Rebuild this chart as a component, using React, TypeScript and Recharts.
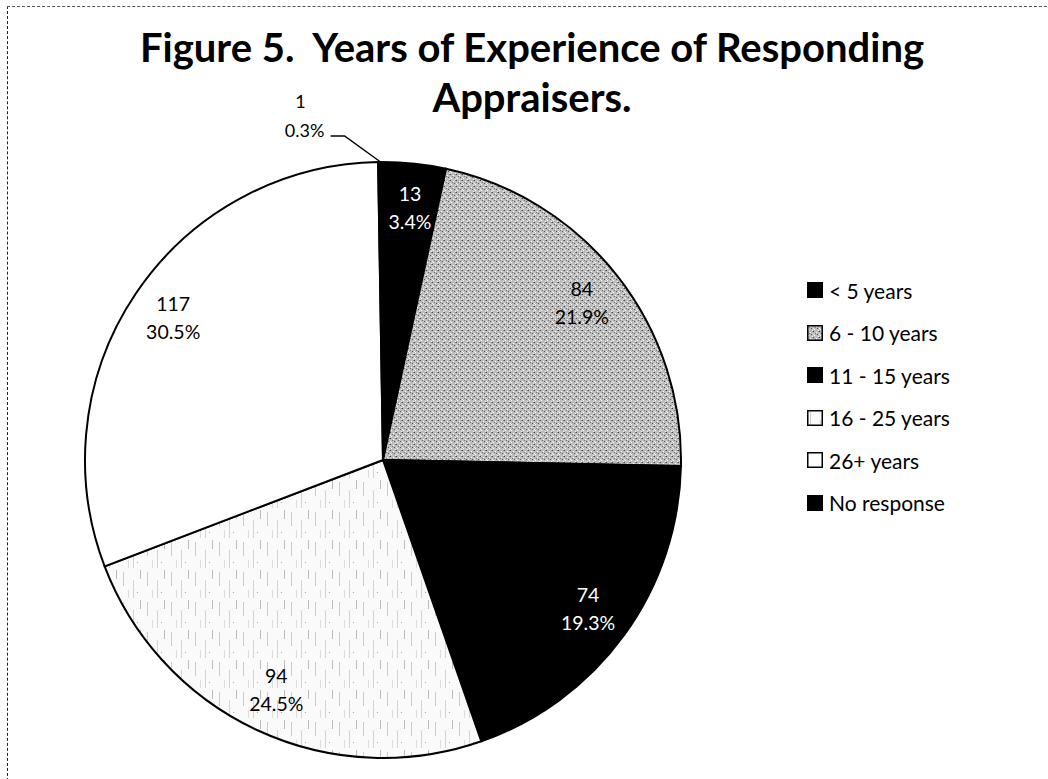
import React from "react"
import { PieChart, Pie, Cell, Legend } from "recharts"

const categories = ["< 5 years", "6 - 10 years", "11 - 15 years", "16 - 25 years", "26+ years", "No response"]
const counts = [13, 84, 74, 94, 117, 1]
const percents = ["3.4%", "21.9%", "19.3%", "24.5%", "30.5%", "0.3%"]

const fills = ["#000", "url(#speckle)", "#000", "url(#faint)", "#fff", "#000"]
const labelInk = ["#fff", "#000", "#fff", "#000", "#000", "#000"]

const FONT = "Lato, 'Open Sans', sans-serif"
const RAD = Math.PI / 180

const data = categories.map((name, i) => ({ name, value: counts[i], pct: percents[i] }))

function SliceLabel(props: any) {
  const { cx, cy, midAngle, outerRadius, index } = props
  const d = data[index]
  if (d.name === "No response") {
    // tiny slice: label sits outside with a leader line
    const x0 = cx + outerRadius * Math.cos(-midAngle * RAD)
    const y0 = cy + outerRadius * Math.sin(-midAngle * RAD)
    return (
      <g>
        <polyline
          points={`${x0},${y0} ${x0 - 36},${y0 - 26} ${x0 - 50},${y0 - 26}`}
          fill="none"
          stroke="#000"
          strokeWidth={1.5}
        />
        <text x={x0 - 80} y={y0 - 54} textAnchor="middle" fontFamily={FONT} fontSize={18} fill="#000">
          {d.value}
        </text>
        <text x={x0 - 76} y={y0 - 25} textAnchor="middle" fontFamily={FONT} fontSize={18} fill="#000">
          {d.pct}
        </text>
      </g>
    )
  }
  const x = cx + outerRadius * 0.85 * Math.cos(-midAngle * RAD)
  const y = cy + outerRadius * 0.85 * Math.sin(-midAngle * RAD)
  return (
    <g>
      <text x={x} y={y - 7} textAnchor="middle" fontFamily={FONT} fontSize={19.5} fill={labelInk[index]}>
        {d.value}
      </text>
      <text x={x} y={y + 21} textAnchor="middle" fontFamily={FONT} fontSize={19.5} fill={labelInk[index]}>
        {d.pct}
      </text>
    </g>
  )
}

function LegendBox({ i }: { i: number }) {
  return (
    <svg width={16} height={16} style={{ marginRight: 6, flex: "none" }}>
      <rect x={0.75} y={0.75} width={14.5} height={14.5} fill={fills[i]} stroke="#000" strokeWidth={1.5} />
    </svg>
  )
}

function LegendList() {
  return (
    <div style={{ fontFamily: FONT, fontSize: 21, color: "#000" }}>
      {categories.map((c, i) => (
        <div key={c} style={{ display: "flex", alignItems: "center", height: 42.5 }}>
          <LegendBox i={i} />
          <span>{c}</span>
        </div>
      ))}
    </div>
  )
}

export default function App() {
  return (
    <div
      style={{
        position: "absolute",
        left: 0,
        top: 0,
        width: 1048,
        height: 779,
        background: "#fff",
        overflow: "hidden",
      }}
    >
      <div
        style={{
          position: "absolute",
          left: 7,
          top: 6,
          width: 1060,
          height: 790,
          borderTop: "1px dashed #555",
          borderLeft: "1.5px dashed #222",
          boxSizing: "border-box",
        }}
      />
      <div
        style={{
          position: "absolute",
          left: 0,
          top: 22,
          width: 1064,
          textAlign: "center",
          fontFamily: FONT,
          fontWeight: 700,
          fontSize: 40,
          lineHeight: "50px",
          color: "#000",
          whiteSpace: "nowrap",
        }}
      >
        Figure 5.&nbsp; Years of Experience of Responding
        <br />
        Appraisers.
      </div>
      <PieChart
        width={1048}
        height={779}
        margin={{ top: 0, right: 0, bottom: 0, left: 0 }}
        style={{ position: "absolute", left: 0, top: 0 }}
      >
        <defs>
          <pattern id="speckle" width={6} height={6} patternUnits="userSpaceOnUse">
            <rect width={6} height={6} fill="#bdbdbd" />
            <rect x={0} y={0} width={1} height={1} fill="#444" />
            <rect x={3} y={1} width={1} height={1} fill="#fff" />
            <rect x={4} y={3} width={1} height={1} fill="#555" />
            <rect x={1} y={4} width={1} height={1} fill="#fff" />
            <rect x={2} y={2} width={1} height={1} fill="#777" />
            <rect x={5} y={5} width={1} height={1} fill="#f4f4f4" />
            <rect x={0} y={3} width={1} height={1} fill="#eee" />
            <rect x={5} y={0} width={1} height={1} fill="#888" />
          </pattern>
          <pattern id="faint" width={24} height={30} patternUnits="userSpaceOnUse">
            <rect width={24} height={30} fill="#fafafa" />
            <rect x={3} y={2} width={1} height={14} fill="#ccc" />
            <rect x={13} y={10} width={1} height={18} fill="#d4d4d4" />
            <rect x={20} y={0} width={1} height={9} fill="#bbb" />
            <rect x={8} y={20} width={1} height={8} fill="#ddd" />
            <rect x={17} y={22} width={1} height={1} fill="#aaa" />
          </pattern>
        </defs>
        <Pie
          data={data}
          dataKey="value"
          nameKey="name"
          cx={383}
          cy={460}
          outerRadius={298}
          startAngle={90}
          endAngle={-270}
          stroke="#000"
          strokeWidth={2}
          label={SliceLabel}
          labelLine={false}
          isAnimationActive={false}
        >
          {data.map((d, i) => (
            <Cell key={d.name} fill={fills[i]} />
          ))}
        </Pie>
        <Legend
          layout="vertical"
          content={() => <LegendList />}
          wrapperStyle={{ position: "absolute", left: 807, top: 269, width: 220 }}
        />
      </PieChart>
    </div>
  )
}
